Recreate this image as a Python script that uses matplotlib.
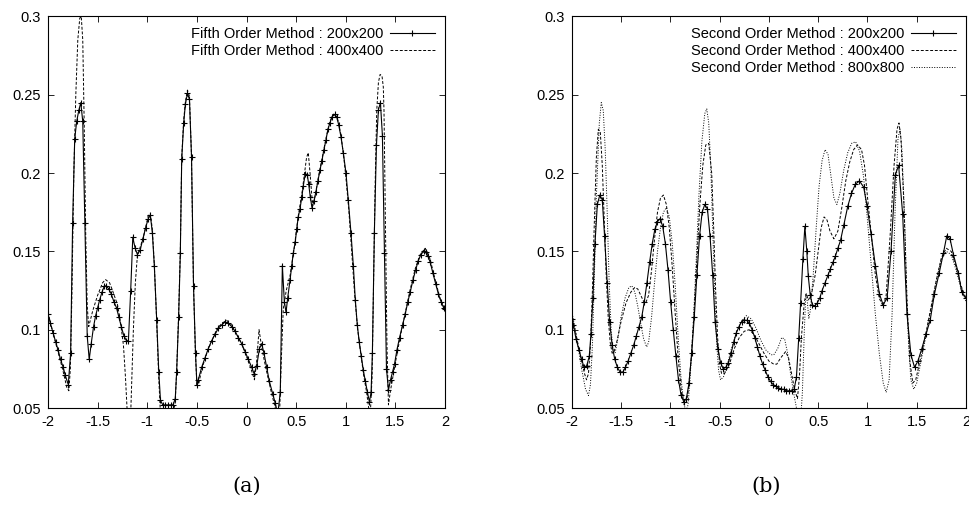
import matplotlib
matplotlib.use("Agg")
import matplotlib.pyplot as plt

plt.rcParams["font.family"] = ["Liberation Sans", "DejaVu Sans"]
plt.rcParams["axes.unicode_minus"] = False

# ---- panel (a): fifth order method ----
a200_x = [-2.000, -1.976, -1.949, -1.922, -1.898, -1.874, -1.847, -1.827, -1.796, -1.772,
          -1.752, -1.731, -1.711, -1.690, -1.670, -1.650, -1.629, -1.605, -1.585, -1.565,
          -1.541, -1.520, -1.500, -1.480, -1.456, -1.432, -1.412, -1.388, -1.364, -1.337,
          -1.310, -1.286, -1.262, -1.235, -1.210, -1.190, -1.167, -1.146, -1.122, -1.099,
          -1.071, -1.044, -1.017, -0.990, -0.969, -0.949, -0.929, -0.905, -0.884, -0.867,
          -0.844, -0.820, -0.793, -0.765, -0.741, -0.718, -0.704, -0.684, -0.667, -0.653,
          -0.633, -0.616, -0.595, -0.575, -0.554, -0.534, -0.514, -0.500, -0.486, -0.452,
          -0.418, -0.385, -0.351, -0.317, -0.284, -0.250, -0.216, -0.183, -0.149, -0.116,
          -0.082, -0.048, -0.015, 0.018, 0.052, 0.076, 0.103, 0.130, 0.153, 0.176,
          0.203, 0.230, 0.264, 0.290, 0.315, 0.340, 0.361, 0.381, 0.398, 0.414,
          0.438, 0.455, 0.471, 0.491, 0.505, 0.521, 0.538, 0.558, 0.572, 0.592,
          0.612, 0.626, 0.642, 0.659, 0.679, 0.699, 0.719, 0.740, 0.760, 0.780,
          0.800, 0.820, 0.841, 0.861, 0.888, 0.908, 0.928, 0.952, 0.975, 1.002,
          1.025, 1.052, 1.076, 1.096, 1.116, 1.136, 1.157, 1.177, 1.197, 1.218,
          1.238, 1.255, 1.268, 1.288, 1.309, 1.329, 1.349, 1.369, 1.390, 1.410,
          1.430, 1.451, 1.471, 1.491, 1.515, 1.542, 1.572, 1.599, 1.626, 1.649,
          1.676, 1.703, 1.730, 1.757, 1.784, 1.804, 1.827, 1.851, 1.878, 1.905,
          1.932, 1.959, 1.986, 2.000]
a200_y = [0.110, 0.104, 0.098, 0.092, 0.087, 0.081, 0.076, 0.071, 0.065, 0.085,
          0.168, 0.222, 0.233, 0.240, 0.245, 0.233, 0.168, 0.096, 0.081, 0.091,
          0.102, 0.109, 0.114, 0.119, 0.124, 0.128, 0.128, 0.126, 0.123, 0.118,
          0.114, 0.108, 0.102, 0.096, 0.093, 0.093, 0.125, 0.159, 0.152, 0.148,
          0.151, 0.158, 0.165, 0.171, 0.173, 0.162, 0.141, 0.106, 0.073, 0.055,
          0.052, 0.052, 0.052, 0.052, 0.052, 0.056, 0.073, 0.108, 0.149, 0.209,
          0.232, 0.244, 0.251, 0.247, 0.210, 0.128, 0.085, 0.065, 0.068, 0.076,
          0.082, 0.088, 0.093, 0.097, 0.101, 0.103, 0.105, 0.104, 0.102, 0.099,
          0.095, 0.091, 0.086, 0.081, 0.076, 0.072, 0.077, 0.088, 0.091, 0.085,
          0.076, 0.067, 0.059, 0.053, 0.046, 0.060, 0.141, 0.118, 0.111, 0.120,
          0.1315, 0.1406, 0.149, 0.156, 0.164, 0.172, 0.177, 0.185, 0.192, 0.1995,
          0.199, 0.193, 0.185, 0.178, 0.182, 0.188, 0.195, 0.202, 0.208, 0.215,
          0.221, 0.228, 0.232, 0.236, 0.2375, 0.236, 0.231, 0.223, 0.213, 0.200,
          0.183, 0.162, 0.141, 0.119, 0.103, 0.092, 0.083, 0.074, 0.067, 0.060,
          0.054, 0.060, 0.085, 0.162, 0.218, 0.2405, 0.245, 0.224, 0.149, 0.075,
          0.0615, 0.068, 0.073, 0.078, 0.087, 0.095, 0.103, 0.110, 0.118, 0.124,
          0.1315, 0.138, 0.144, 0.148, 0.150, 0.1495, 0.147, 0.143, 0.136, 0.1295,
          0.123, 0.118, 0.114, 0.113]

a400_x = [-2.00, -1.95, -1.90, -1.85, -1.81, -1.79, -1.775, -1.76, -1.74, -1.72,
          -1.70, -1.68, -1.665, -1.65, -1.635, -1.62, -1.605, -1.59, -1.55, -1.50,
          -1.45, -1.42, -1.38, -1.35, -1.30, -1.27, -1.24, -1.22, -1.20, -1.19,
          -1.17, -1.16, -1.14, -1.12, -1.10, -1.07, -1.04, -1.01, -0.99, -0.97,
          -0.95, -0.93, -0.905, -0.885, -0.87, -0.85, -0.80, -0.75, -0.72, -0.705,
          -0.685, -0.667, -0.653, -0.633, -0.615, -0.595, -0.575, -0.555, -0.535, -0.515,
          -0.50, -0.48, -0.45, -0.40, -0.35, -0.30, -0.25, -0.20, -0.15, -0.10,
          -0.05, 0.00, 0.05, 0.08, 0.10, 0.126, 0.15, 0.18, 0.20, 0.25,
          0.29, 0.31, 0.325, 0.335, 0.35, 0.37, 0.40, 0.44, 0.48, 0.52,
          0.56, 0.59, 0.605, 0.622, 0.64, 0.666, 0.69, 0.72, 0.76, 0.80,
          0.84, 0.88, 0.92, 0.95, 0.98, 1.00, 1.03, 1.06, 1.09, 1.12,
          1.15, 1.18, 1.21, 1.235, 1.25, 1.265, 1.28, 1.295, 1.312, 1.329,
          1.346, 1.365, 1.378, 1.385, 1.395, 1.405, 1.415, 1.43, 1.45, 1.50,
          1.55, 1.60, 1.65, 1.70, 1.75, 1.80, 1.85, 1.90, 1.95, 2.00]
a400_y = [0.111, 0.098, 0.086, 0.074, 0.063, 0.061, 0.075, 0.120, 0.200, 0.250,
          0.285, 0.299, 0.300, 0.285, 0.230, 0.160, 0.115, 0.102, 0.112, 0.122,
          0.130, 0.132, 0.130, 0.125, 0.116, 0.105, 0.090, 0.070, 0.045, 0.030,
          0.040, 0.060, 0.100, 0.130, 0.147, 0.153, 0.159, 0.167, 0.173, 0.174,
          0.165, 0.143, 0.105, 0.070, 0.050, 0.047, 0.047, 0.047, 0.052, 0.072,
          0.108, 0.150, 0.210, 0.234, 0.246, 0.253, 0.249, 0.212, 0.130, 0.085,
          0.065, 0.066, 0.075, 0.085, 0.093, 0.100, 0.104, 0.106, 0.103, 0.097,
          0.091, 0.083, 0.074, 0.068, 0.078, 0.100, 0.090, 0.080, 0.074, 0.060,
          0.050, 0.040, 0.030, 0.050, 0.080, 0.113, 0.125, 0.135, 0.152, 0.172,
          0.188, 0.203, 0.210, 0.213, 0.200, 0.179, 0.185, 0.196, 0.209, 0.222,
          0.233, 0.238, 0.234, 0.225, 0.210, 0.198, 0.177, 0.150, 0.122, 0.100,
          0.085, 0.071, 0.060, 0.048, 0.050, 0.070, 0.130, 0.190, 0.240, 0.258,
          0.263, 0.262, 0.255, 0.240, 0.190, 0.140, 0.090, 0.052, 0.061, 0.079,
          0.096, 0.111, 0.126, 0.139, 0.148, 0.152, 0.145, 0.132, 0.120, 0.113]

# ---- panel (b): second order method ----
b200_x = [-2.000, -1.983, -1.956, -1.926, -1.899, -1.875, -1.848, -1.822, -1.805, -1.785,
          -1.764, -1.740, -1.715, -1.690, -1.667, -1.640, -1.615, -1.590, -1.563, -1.537,
          -1.510, -1.480, -1.455, -1.428, -1.400, -1.372, -1.345, -1.318, -1.290, -1.263,
          -1.237, -1.210, -1.183, -1.157, -1.130, -1.103, -1.077, -1.050, -1.023, -0.997,
          -0.970, -0.943, -0.917, -0.890, -0.863, -0.837, -0.810, -0.783, -0.757, -0.730,
          -0.703, -0.677, -0.650, -0.623, -0.597, -0.570, -0.545, -0.518, -0.490, -0.463,
          -0.437, -0.410, -0.383, -0.357, -0.330, -0.303, -0.277, -0.250, -0.223, -0.197,
          -0.170, -0.143, -0.117, -0.090, -0.063, -0.037, -0.010, 0.017, 0.043, 0.070,
          0.097, 0.123, 0.150, 0.177, 0.203, 0.230, 0.257, 0.280, 0.303, 0.322,
          0.345, 0.365, 0.385, 0.400, 0.420, 0.440, 0.465, 0.490, 0.515, 0.540,
          0.570, 0.600, 0.625, 0.650, 0.675, 0.700, 0.727, 0.761, 0.801, 0.838,
          0.878, 0.919, 0.962, 0.996, 1.037, 1.080, 1.121, 1.158, 1.199, 1.239,
          1.283, 1.316, 1.357, 1.401, 1.441, 1.478, 1.512, 1.552, 1.593, 1.636,
          1.680, 1.727, 1.771, 1.805, 1.838, 1.872, 1.923, 1.956, 2.000]
b200_y = [0.107, 0.103, 0.094, 0.087, 0.081, 0.076, 0.077, 0.083, 0.097, 0.120,
          0.155, 0.180, 0.186, 0.183, 0.160, 0.130, 0.105, 0.090, 0.081, 0.076,
          0.073, 0.073, 0.076, 0.080, 0.085, 0.090, 0.096, 0.102, 0.108, 0.118,
          0.130, 0.143, 0.155, 0.164, 0.169, 0.171, 0.166, 0.155, 0.138, 0.118,
          0.100, 0.083, 0.068, 0.058, 0.054, 0.056, 0.066, 0.085, 0.108, 0.135,
          0.160, 0.175, 0.180, 0.177, 0.160, 0.135, 0.105, 0.088, 0.079, 0.075,
          0.076, 0.079, 0.085, 0.092, 0.098, 0.102, 0.105, 0.106, 0.106, 0.104,
          0.100, 0.095, 0.089, 0.083, 0.078, 0.074, 0.070, 0.067, 0.065, 0.064,
          0.063, 0.062, 0.062, 0.061, 0.061, 0.061, 0.062, 0.070, 0.095, 0.117,
          0.145, 0.166, 0.150, 0.134, 0.122, 0.116, 0.115, 0.117, 0.120, 0.125,
          0.130, 0.135, 0.139, 0.143, 0.147, 0.152, 0.157, 0.167, 0.179, 0.187,
          0.193, 0.195, 0.191, 0.179, 0.161, 0.141, 0.123, 0.116, 0.120, 0.150,
          0.199, 0.205, 0.174, 0.110, 0.084, 0.076, 0.080, 0.088, 0.097, 0.106,
          0.123, 0.136, 0.149, 0.160, 0.158, 0.148, 0.136, 0.124, 0.120]

b400_x = [-2.00, -1.95, -1.90, -1.87, -1.85, -1.83, -1.81, -1.79, -1.77, -1.75,
          -1.73, -1.71, -1.69, -1.67, -1.65, -1.63, -1.61, -1.59, -1.57, -1.54,
          -1.50, -1.45, -1.40, -1.36, -1.33, -1.30, -1.27, -1.25, -1.22, -1.19,
          -1.16, -1.13, -1.10, -1.07, -1.04, -1.01, -0.98, -0.95, -0.92, -0.89,
          -0.86, -0.84, -0.82, -0.79, -0.76, -0.73, -0.70, -0.67, -0.64, -0.61,
          -0.58, -0.56, -0.54, -0.52, -0.50, -0.48, -0.45, -0.40, -0.35, -0.30,
          -0.25, -0.20, -0.15, -0.10, -0.05, 0.00, 0.05, 0.08, 0.12, 0.17,
          0.20, 0.23, 0.26, 0.29, 0.31, 0.33, 0.36, 0.38, 0.40, 0.43,
          0.47, 0.50, 0.53, 0.56, 0.59, 0.62, 0.66, 0.70, 0.74, 0.78,
          0.82, 0.86, 0.90, 0.94, 0.97, 1.00, 1.04, 1.08, 1.12, 1.16,
          1.19, 1.23, 1.27, 1.30, 1.32, 1.34, 1.37, 1.40, 1.43, 1.46,
          1.49, 1.55, 1.60, 1.65, 1.70, 1.75, 1.80, 1.85, 1.90, 1.95,
          2.00]
b400_y = [0.110, 0.095, 0.080, 0.072, 0.068, 0.072, 0.090, 0.125, 0.170, 0.210,
          0.228, 0.226, 0.205, 0.170, 0.135, 0.108, 0.092, 0.085, 0.086, 0.093,
          0.105, 0.117, 0.124, 0.127, 0.126, 0.122, 0.118, 0.117, 0.122, 0.138,
          0.158, 0.175, 0.184, 0.186, 0.180, 0.165, 0.140, 0.110, 0.082, 0.062,
          0.053, 0.053, 0.060, 0.080, 0.110, 0.145, 0.180, 0.205, 0.218, 0.219,
          0.200, 0.165, 0.125, 0.095, 0.078, 0.072, 0.072, 0.078, 0.088, 0.095,
          0.099, 0.100, 0.097, 0.091, 0.085, 0.080, 0.078, 0.078, 0.082, 0.086,
          0.082, 0.072, 0.062, 0.056, 0.070, 0.095, 0.118, 0.123, 0.119, 0.122,
          0.135, 0.150, 0.165, 0.172, 0.170, 0.163, 0.158, 0.163, 0.178, 0.195,
          0.207, 0.215, 0.218, 0.215, 0.205, 0.185, 0.160, 0.135, 0.120, 0.115,
          0.122, 0.160, 0.205, 0.228, 0.232, 0.222, 0.180, 0.120, 0.080, 0.066,
          0.068, 0.085, 0.100, 0.116, 0.132, 0.146, 0.152, 0.150, 0.140, 0.128,
          0.120]

b800_x = [-2.00, -1.95, -1.90, -1.86, -1.83, -1.81, -1.79, -1.77, -1.75, -1.72,
          -1.70, -1.68, -1.66, -1.64, -1.62, -1.60, -1.58, -1.56, -1.53, -1.50,
          -1.46, -1.42, -1.39, -1.36, -1.33, -1.30, -1.27, -1.24, -1.22, -1.19,
          -1.16, -1.13, -1.10, -1.07, -1.04, -1.01, -0.98, -0.95, -0.92, -0.89,
          -0.86, -0.84, -0.82, -0.80, -0.77, -0.74, -0.71, -0.68, -0.65, -0.63,
          -0.61, -0.59, -0.57, -0.55, -0.53, -0.51, -0.49, -0.46, -0.42, -0.38,
          -0.33, -0.28, -0.23, -0.18, -0.13, -0.08, -0.03, 0.02, 0.05, 0.09,
          0.13, 0.16, 0.19, 0.22, 0.25, 0.28, 0.30, 0.32, 0.34, 0.36,
          0.375, 0.39, 0.405, 0.42, 0.45, 0.48, 0.51, 0.54, 0.57, 0.60,
          0.63, 0.66, 0.69, 0.72, 0.76, 0.80, 0.84, 0.88, 0.92, 0.96,
          1.00, 1.04, 1.08, 1.12, 1.16, 1.19, 1.22, 1.25, 1.28, 1.31,
          1.33, 1.35, 1.38, 1.41, 1.44, 1.47, 1.50, 1.55, 1.60, 1.65,
          1.70, 1.75, 1.80, 1.85, 1.90, 1.95, 2.00]
b800_y = [0.112, 0.095, 0.075, 0.062, 0.058, 0.065, 0.090, 0.135, 0.185, 0.232,
          0.245, 0.240, 0.215, 0.175, 0.130, 0.100, 0.086, 0.085, 0.095, 0.108,
          0.120, 0.127, 0.128, 0.124, 0.115, 0.104, 0.094, 0.089, 0.092, 0.108,
          0.130, 0.150, 0.165, 0.175, 0.178, 0.172, 0.155, 0.128, 0.095, 0.068,
          0.052, 0.048, 0.052, 0.068, 0.100, 0.140, 0.185, 0.220, 0.238, 0.241,
          0.232, 0.205, 0.165, 0.125, 0.092, 0.074, 0.068, 0.070, 0.078, 0.088,
          0.098, 0.105, 0.109, 0.107, 0.101, 0.093, 0.087, 0.084, 0.084, 0.088,
          0.095, 0.094, 0.085, 0.072, 0.060, 0.050, 0.042, 0.040, 0.060, 0.100,
          0.123, 0.118, 0.107, 0.112, 0.135, 0.165, 0.192, 0.208, 0.215, 0.212,
          0.198, 0.184, 0.180, 0.187, 0.202, 0.213, 0.219, 0.220, 0.214, 0.198,
          0.170, 0.140, 0.110, 0.085, 0.066, 0.060, 0.068, 0.110, 0.175, 0.222,
          0.228, 0.215, 0.165, 0.100, 0.068, 0.062, 0.066, 0.082, 0.098, 0.115,
          0.132, 0.145, 0.150, 0.148, 0.138, 0.126, 0.118]

x_ticks = [-2, -1.5, -1, -0.5, 0, 0.5, 1, 1.5, 2]
x_labels = ["-2", "-1.5", "-1", "-0.5", "0", "0.5", "1", "1.5", "2"]
y_ticks = [0.05, 0.1, 0.15, 0.2, 0.25, 0.3]
y_labels = ["0.05", "0.1", "0.15", "0.2", "0.25", "0.3"]

fig = plt.figure(figsize=(9.7, 5.17), dpi=100)
ax_a = fig.add_axes([0.0495, 0.2108, 0.4093, 0.7573])
ax_b = fig.add_axes([0.5894, 0.2108, 0.4065, 0.7573])

solid = dict(color="black", lw=0.8, marker="+", ms=5, mew=0.8)
dashed = dict(color="black", lw=0.7, linestyle=(0, (3, 1.8)))
dotted = dict(color="black", lw=0.7, linestyle=(0, (1, 1.6)))

ax_a.plot(a200_x, a200_y, label="Fifth Order Method : 200x200", **solid)
ax_a.plot(a400_x, a400_y, label="Fifth Order Method : 400x400", **dashed)

ax_b.plot(b200_x, b200_y, label="Second Order Method : 200x200", **solid)
ax_b.plot(b400_x, b400_y, label="Second Order Method : 400x400", **dashed)
ax_b.plot(b800_x, b800_y, label="Second Order Method : 800x800", **dotted)

for ax in (ax_a, ax_b):
    ax.set_xlim(-2, 2)
    ax.set_ylim(0.05, 0.3)
    ax.set_xticks(x_ticks)
    ax.set_xticklabels(x_labels)
    ax.set_yticks(y_ticks)
    ax.set_yticklabels(y_labels)
    ax.tick_params(direction="in", top=True, right=True, length=4, width=0.6,
                   labelsize=10.5, pad=5)
    for s in ax.spines.values():
        s.set_linewidth(0.8)
    ax.legend(loc="upper right", frameon=False, fontsize=10.5, handlelength=3.1,
              handletextpad=0.45, labelspacing=0.22, borderaxespad=0.3,
              numpoints=1, markerfirst=False)

fig.text(0.2546, 0.06, "(a)", ha="center", va="center", fontsize=15,
         family="DejaVu Serif")
fig.text(0.7897, 0.06, "(b)", ha="center", va="center", fontsize=15,
         family="DejaVu Serif")

fig.savefig("out.png", dpi=100)
